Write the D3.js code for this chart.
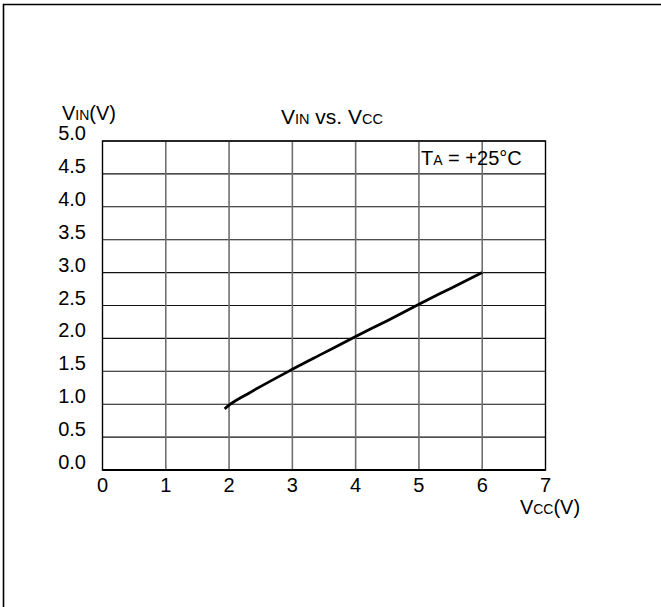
<!DOCTYPE html>
<html><head><meta charset="utf-8">
<script src="https://cdn.jsdelivr.net/npm/d3@7"></script>
<style>body{margin:0;background:#fff;} text{font-family:"Liberation Sans",Arial,sans-serif;fill:#000;}</style>
</head><body>
<svg id="c" width="661" height="607"></svg>
<script>
const xTicks = [0,1,2,3,4,5,6,7];
const yTicks = [0.0,0.5,1.0,1.5,2.0,2.5,3.0,3.5,4.0,4.5,5.0];
const vccValues = [1.93,2.0,2.3,3.0,3.5,4.0,4.5,5.0,5.5,6.0];
const vinValues = [0.93,0.985,1.16,1.53,1.78,2.03,2.27,2.52,2.76,3.0];

const svg = d3.select("#c");
const W=661,H=607;
svg.append("rect").attr("x",0).attr("y",0).attr("width",W).attr("height",H).attr("fill","#fff");
svg.append("path").attr("d","M3.5,607 V4.5 H661").attr("fill","none").attr("stroke","#000").attr("stroke-width",1.6);

const x = d3.scaleLinear().domain([0,7]).range([102.5,545.5]);
const y = d3.scaleLinear().domain([0,5]).range([470,141]);

const g = svg.append("g");
g.selectAll("line.h").data(yTicks).enter().append("line")
 .attr("x1",x(0)).attr("x2",x(7)).attr("y1",d=>y(d)).attr("y2",d=>y(d))
 .attr("stroke","#111").attr("stroke-width",1.1);
g.selectAll("line.v").data(xTicks.slice(1,-1)).enter().append("line")
 .attr("x1",d=>x(d)).attr("x2",d=>x(d)).attr("y1",y(5)).attr("y2",y(0))
 .attr("stroke","#707070").attr("stroke-width",1.6);
g.append("rect").attr("x",x(0)).attr("y",y(5)).attr("width",x(7)-x(0)).attr("height",y(0)-y(5))
 .attr("fill","none").attr("stroke","#000").attr("stroke-width",1.4);
g.append("line").attr("x1",x(0)).attr("x2",x(7)).attr("y1",y(0)).attr("y2",y(0)).attr("stroke","#000").attr("stroke-width",1.8);

svg.selectAll("text.yt").data(yTicks).enter().append("text")
 .attr("x",86).attr("y",d=>y(d)-1).attr("text-anchor","end").attr("font-size",20)
 .text(d=>d.toFixed(1));
svg.selectAll("text.xt").data(xTicks).enter().append("text")
 .attr("x",d=>x(d)).attr("y",492).attr("text-anchor","middle").attr("font-size",20)
 .text(d=>d);

const line = d3.line().x(d=>x(d[0])).y(d=>y(d[1])).curve(d3.curveMonotoneX);
svg.append("path").datum(vccValues.map((v,i)=>[v,vinValues[i]]))
 .attr("d",line).attr("fill","none").attr("stroke","#000").attr("stroke-width",2.8)
 .attr("stroke-linejoin","round");

function sublabel(xp,yp,parts,anchor,fs){
  const t = svg.append("text").attr("x",xp).attr("y",yp).attr("text-anchor",anchor||"start").attr("font-size",fs||20);
  parts.forEach(p=>t.append("tspan").attr("font-size",p[1]).text(p[0]));
  return t;
}
sublabel(62,120,[["V",20],["IN",14],["(V)",20]]);
sublabel(332,124,[["V",21],["IN",14.5],[" vs. ",21],["V",21],["CC",14.5]],"middle",21);
sublabel(550,514,[["V",20],["CC",14],["(V)",20]],"middle");
sublabel(421,165,[["T",20],["A",14],[" = +25°C",20]]);
</script>
</body></html>
